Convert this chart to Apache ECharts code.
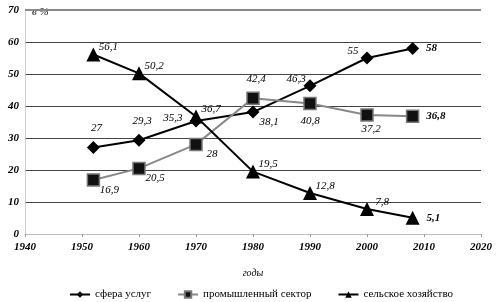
<!DOCTYPE html>
<html>
<head>
<meta charset="utf-8">
<script src="https://cdn.jsdelivr.net/npm/echarts@6/dist/echarts.min.js"></script>
<style>
html, body { margin: 0; padding: 0; background: #fff; }
#chart { width: 496px; height: 302px; }
</style>
</head>
<body>
<div id="chart"></div>
<script>
// годы и доли занятых, %
const years = [1952, 1960, 1970, 1980, 1990, 2000, 2008]
const services = [27, 29.3, 35.3, 38.1, 46.3, 55, 58]
const industry = [16.9, 20.5, 28, 42.4, 40.8, 37.2, 36.8]
const agriculture = [56.1, 50.2, 36.7, 19.5, 12.8, 7.8, 5.1]
const seriesNames = ['сфера услуг', 'промышленный сектор', 'сельское хозяйство']

// where each value label sits relative to its point
const labelSpots = {
    services: ['top', 'top', 'left', 'bottomRight', 'topLeft', 'topLeft', 'right'],
    industry: ['bottomRight', 'bottomRight', 'bottomRight', 'top', 'bottom', 'bottomUp', 'right'],
    agriculture: ['topRight', 'topRight', 'topRight', 'topRight', 'topRight', 'topRight', 'right']
}

const serif = '"Liberation Serif", "DejaVu Serif", serif'

const offsets = {
    top: [3, -2],
    bottom: [0, 0],
    bottomUp: [4, -3],
    left: [-2, -3],
    right: [2, 0],
    topLeft: [-14, -7],
    topRight: [15, -7],
    bottomRight: [16, 10]
}

function pairs(vals) {
    return vals.map((v, i) => [years[i], v])
}

function withLabels(vals, spots) {
    return pairs(vals).map((p, i) => {
        const s = spots[i]
        let pos = s
        if (s === 'topLeft' || s === 'topRight' || s === 'bottomRight') pos = 'inside'
        if (s === 'bottomUp') pos = 'bottom'
        return {
            value: p,
            label: {
                position: pos,
                offset: offsets[s],
                fontWeight: i === vals.length - 1 ? 'bold' : 'normal'
            }
        }
    })
}

const fmt = p => String(p.value[1]).replace('.', ',')

const chart = echarts.init(document.getElementById('chart'), null, { renderer: 'canvas' })
chart.setOption({
    backgroundColor: '#fff',
    animation: false,
    grid: {
        left: 25,
        right: 15,
        top: 10,
        bottom: 68
    },
    legend: {
        bottom: -3,
        left: 64,
        itemGap: 26,
        itemWidth: 20,
        itemHeight: 8,
        textStyle: { fontFamily: serif, fontSize: 11, color: '#000' },
        data: seriesNames
    },
    xAxis: {
        type: 'value',
        min: 1940,
        max: 2020,
        interval: 10,
        name: 'годы',
        nameLocation: 'middle',
        nameGap: 34,
        nameTextStyle: { fontFamily: serif, fontStyle: 'italic', fontSize: 10, color: '#000' },
        axisLine: { lineStyle: { color: '#bbb' } },
        axisTick: { show: true, length: 3, lineStyle: { color: '#999' } },
        splitLine: { show: false },
        axisLabel: {
            fontFamily: serif, fontStyle: 'italic', fontWeight: 'bold', fontSize: 11, color: '#000', margin: 8,
            formatter: v => String(v)
        }
    },
    yAxis: {
        type: 'value',
        min: 0,
        max: 70,
        interval: 10,
        name: 'в %',
        nameLocation: 'end',
        nameGap: -8,
        nameTextStyle: {
            fontFamily: serif, fontStyle: 'italic', fontSize: 11, color: '#000',
            align: 'left', padding: [0, 0, 0, 7]
        },
        axisLine: { show: true, lineStyle: { color: '#ccc' } },
        axisTick: { show: false },
        splitLine: {
            lineStyle: { color: '#444', width: 1 }
        },
        axisLabel: {
            fontFamily: serif, fontStyle: 'italic', fontWeight: 'bold', fontSize: 11, color: '#000', margin: 6
        }
    },
    series: [
        {
            name: seriesNames[0],
            type: 'line',
            symbol: 'diamond',
            symbolSize: 13,
            lineStyle: { color: '#000', width: 2 },
            itemStyle: { color: '#000' },
            label: {
                show: true, formatter: fmt,
                fontFamily: serif, fontStyle: 'italic', fontSize: 11, color: '#000'
            },
            markLine: {
                silent: true,
                symbol: 'none',
                label: { show: false },
                lineStyle: { color: '#888', width: 2, type: 'solid' },
                data: [{ yAxis: 70 }]
            },
            data: withLabels(services, labelSpots.services)
        },
        {
            name: seriesNames[1],
            type: 'line',
            symbol: 'rect',
            symbolSize: 12,
            lineStyle: { color: '#888', width: 2 },
            itemStyle: { color: '#111', borderColor: '#777', borderWidth: 1.5 },
            label: {
                show: true, formatter: fmt,
                fontFamily: serif, fontStyle: 'italic', fontSize: 11, color: '#000'
            },
            data: withLabels(industry, labelSpots.industry)
        },
        {
            name: seriesNames[2],
            type: 'line',
            symbol: 'triangle',
            symbolSize: 14,
            lineStyle: { color: '#000', width: 2 },
            itemStyle: { color: '#000' },
            label: {
                show: true, formatter: fmt,
                fontFamily: serif, fontStyle: 'italic', fontSize: 11, color: '#000'
            },
            data: withLabels(agriculture, labelSpots.agriculture)
        }
    ]
})
</script>
</body>
</html>
